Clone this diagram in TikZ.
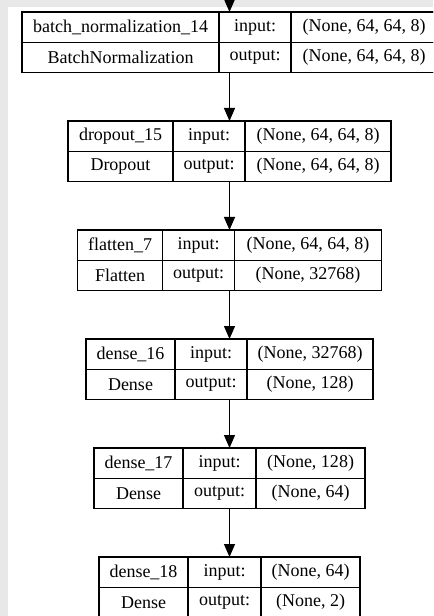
\documentclass[tikz,border=0pt]{standalone}
\usepackage{fontspec}
\setmainfont{Liberation Serif}
\newfontfamily\cellfont{Liberation Serif}
\usetikzlibrary{positioning,arrows.meta}
\definecolor{bggrey}{HTML}{E8E8E8}

\begin{document}
\begin{tikzpicture}[
    x=0.75pt, y=-0.75pt,
    cell/.style={rectangle, draw, line width=0.9pt, outer sep=0pt, inner sep=0pt,
        minimum height=22.7pt, font=\cellfont\fontsize{13.5}{15}\selectfont},
    frame/.style={rectangle, draw, line width=0.9pt, outer sep=0pt, inner sep=0pt,
        minimum height=45.45pt},
    arrow/.style={line width=0.9pt, -{Triangle[length=9.75pt, width=8.25pt]}}
]
\useasboundingbox (0,0) rectangle (433,616);
\clip (0,0) rectangle (433,616);

% Background
\fill[bggrey] (0,0) rectangle (433,616);
\fill[white] (8,7) rectangle (433,616);

% Layers: name / top / column widths / texts
\foreach \nm/\ytop/\wa/\wb/\wc/\lname/\lclass/\lin/\lout in {
    bn14/12/197/72/146/batch\_normalization\_14/BatchNormalization/{(None, 64, 64, 8)}/{(None, 64, 64, 8)},
    drop15/121/105/72/146/dropout\_15/Dropout/{(None, 64, 64, 8)}/{(None, 64, 64, 8)},
    flat7/230/85/72/147/flatten\_7/Flatten/{(None, 64, 64, 8)}/{(None, 32768)},
    dense16/339/89/72/126/dense\_16/Dense/{(None, 32768)}/{(None, 128)},
    dense17/448/89/73/109/dense\_17/Dense/{(None, 128)}/{(None, 64)},
    dense18/557/89/73/99/dense\_18/Dense/{(None, 64)}/{(None, 2)}}
{
    \pgfmathsetmacro\xl{229.5-(\wa+\wb+\wc)/2}
    \node[frame, minimum width={(\wa+\wb+\wc)*0.75pt}] (\nm) at (229.5,\ytop+30.3) {};
    \node[cell, minimum width={\wa*0.75pt}, anchor=north west] (\nm-name) at (\xl,\ytop) {\lname};
    \node[cell, minimum width={\wa*0.75pt}, below=0pt of \nm-name] (\nm-class) {\lclass};
    \node[cell, minimum width={\wb*0.75pt}, right=0pt of \nm-name] (\nm-inl) {input:};
    \node[cell, minimum width={\wb*0.75pt}, right=0pt of \nm-class] (\nm-outl) {output:};
    \node[cell, minimum width={\wc*0.75pt}, right=0pt of \nm-inl] (\nm-in) {\lin};
    \node[cell, minimum width={\wc*0.75pt}, right=0pt of \nm-outl] (\nm-out) {\lout};
}

% Connections
\coordinate (feed) at (229.5,-20);
\draw[arrow] (feed) -- (bn14);
\foreach \a/\b in {bn14/drop15, drop15/flat7, flat7/dense16, dense16/dense17, dense17/dense18}
    \draw[arrow] (\a) -- (\b);

\end{tikzpicture}
\end{document}
